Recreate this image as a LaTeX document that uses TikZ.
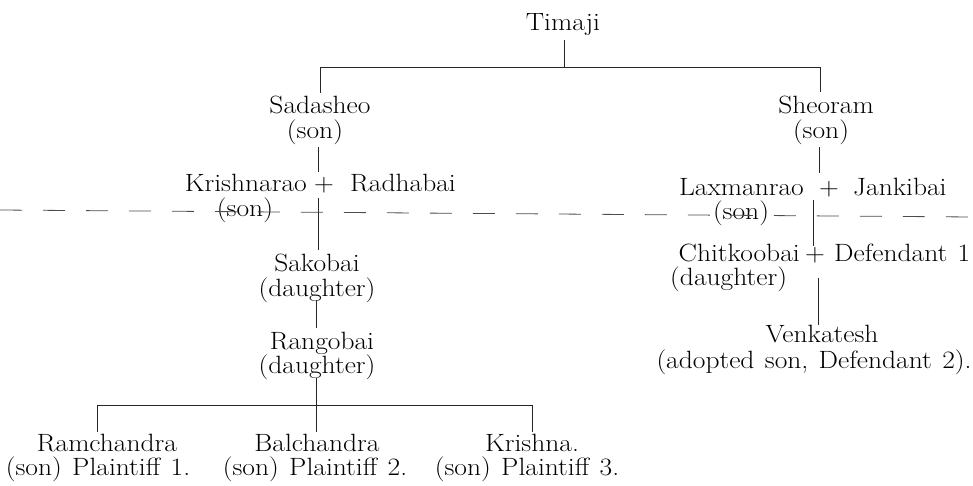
\documentclass[tikz,border=0pt]{standalone}
\usepackage{fontspec}
\setmainfont{Latin Modern Roman}[FakeStretch=1.1, WordSpace=1.25]
\begin{document}
\begin{tikzpicture}[x=1pt,y=1pt,
  lbl/.style={inner sep=0pt, anchor=base, font=\fontsize{25}{29}\selectfont},
  conn/.style={line width=0.8pt, black!85},
  dashline/.style={line width=0.8pt, black!70, dash pattern=on 22pt off 21pt}]
\useasboundingbox (0,0) rectangle (973,-485);
% names
\node[lbl] (tim) at (563,-30) {Timaji};
\node[lbl] (sad) at (320,-113) {Sadasheo};
\node[lbl] (sadson) at (315,-138) {(son)};
\node[lbl] (she) at (826,-113) {Sheoram};
\node[lbl] (sheson) at (821,-138) {(son)};
\node[lbl, anchor=base east] (kri) at (307,-191) {Krishnarao};
\node[lbl] (kplus) at (324,-191) {+};
\node[lbl, anchor=base west] (rad) at (350,-191) {Radhabai};
\node[lbl] (kson) at (245,-216) {(son)};
\node[lbl, anchor=base east] (lax) at (804,-195) {Laxmanrao};
\node[lbl] (lplus) at (829,-195) {+};
\node[lbl, anchor=base west] (jan) at (853,-195) {Jankibai};
\node[lbl] (lson) at (741,-219) {(son)};
\node[lbl] (sak) at (317,-271) {Sakobai};
\node[lbl] (sakd) at (317,-296) {(daughter)};
\node[lbl] (ran) at (322,-349) {Rangobai};
\node[lbl] (rand) at (317,-373) {(daughter)};
\node[lbl, anchor=base east] (chi) at (800,-261) {Chitkoobai};
\node[lbl] (cplus) at (815,-261) {+};
\node[lbl, anchor=base west] (def) at (834,-261) {Defendant 1};
\node[lbl, anchor=base west] (chid) at (670,-285) {(daughter)};
\node[lbl] (ven) at (822,-342) {Venkatesh};
\node[lbl] (vend) at (814,-368) {(adopted son, Defendant 2).};
\node[lbl] (ram) at (107,-451) {Ramchandra};
\node[lbl] (ramp) at (98,-475) {(son) Plaintiff 1.};
\node[lbl] (bal) at (317,-451) {Balchandra};
\node[lbl] (balp) at (315,-475) {(son) Plaintiff 2.};
\node[lbl] (krs) at (532,-451) {Krishna.};
\node[lbl] (krsp) at (527,-475) {(son) Plaintiff 3.};
% junction coordinates
\coordinate (t1) at (564,-40);
\coordinate (t2) at (564,-67);
\coordinate (hl) at (320,-67);
\coordinate (hr) at (820,-67);
\coordinate (sadtop) at (320,-93);
\coordinate (shetop) at (820,-92);
\coordinate (a1) at (318,-147);
\coordinate (a2) at (318,-172);
\coordinate (b1) at (819,-147);
\coordinate (b2) at (819,-173);
\coordinate (c1) at (318,-198);
\coordinate (c2) at (318,-250);
\coordinate (d1) at (316,-300);
\coordinate (d2) at (316,-328);
\coordinate (e1) at (316,-378);
\coordinate (e2) at (316,-405);
\coordinate (fl) at (97,-405);
\coordinate (fr) at (532,-405);
\coordinate (g1) at (97,-432);
\coordinate (g2) at (316,-432);
\coordinate (g3) at (532,-432);
\coordinate (l1) at (813,-200);
\coordinate (l2) at (813,-246);
\coordinate (m1) at (818,-278);
\coordinate (m2) at (818,-325);
\coordinate (dl) at (0,-210);
\coordinate (dr) at (973,-217);
% connectors
\draw[conn] (t1) -- (t2);
\draw[conn] (hl) -- (hr);
\draw[conn] (hl) -- (sadtop);
\draw[conn] (hr) -- (shetop);
\draw[conn] (a1) -- (a2);
\draw[conn] (b1) -- (b2);
\draw[conn] (c1) -- (c2);
\draw[conn] (d1) -- (d2);
\draw[conn] (e1) -- (e2);
\draw[conn] (fl) -- (fr);
\draw[conn] (fl) -- (g1);
\draw[conn] (e2) -- (g2);
\draw[conn] (fr) -- (g3);
\draw[conn] (l1) -- (l2);
\draw[conn] (m1) -- (m2);
\draw[dashline] (dl) -- (dr);
\end{tikzpicture}
\end{document}
